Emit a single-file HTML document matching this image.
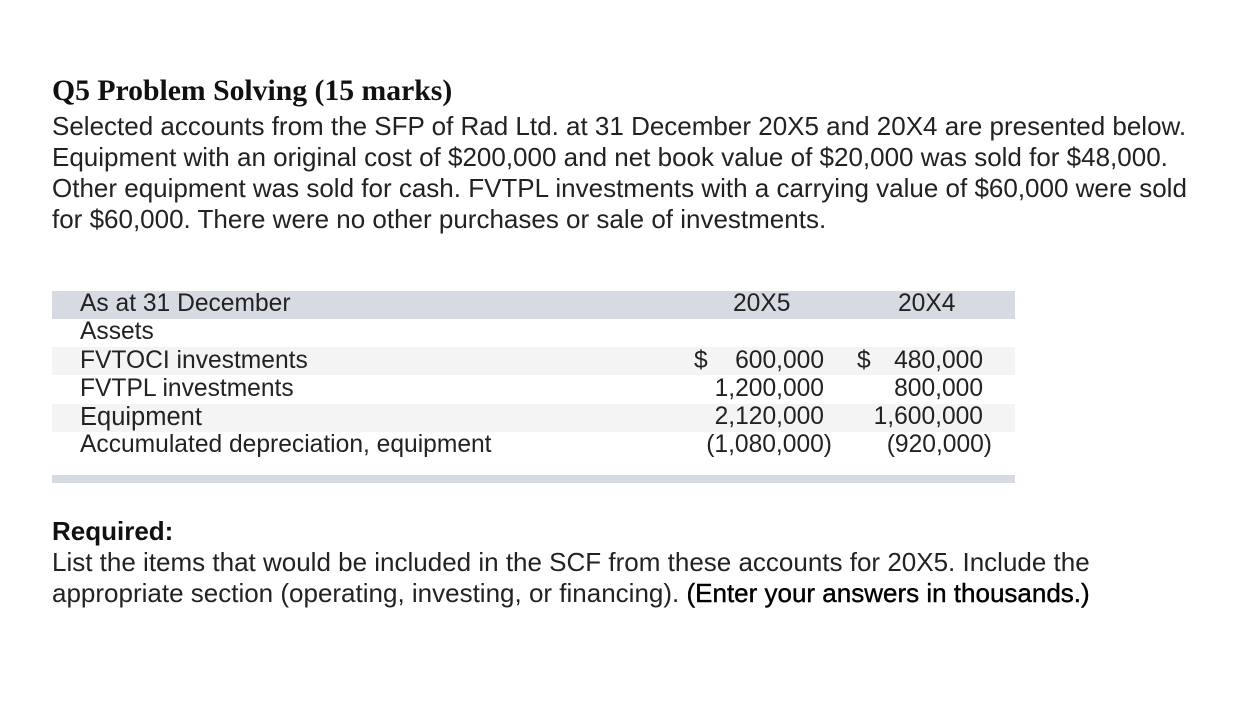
<!DOCTYPE html>
<html><head><meta charset="utf-8"><style>
body{margin:0;width:1244px;height:728px;background:#fff;position:relative;overflow:hidden;font-family:"Liberation Sans",Arial,sans-serif;color:#222}
.a{position:absolute;white-space:nowrap;line-height:1.15}
.p{font-size:26px;left:52px}
.t{font-size:24.6px}
.r{text-align:right}
</style></head><body>
<div class="a" style="left:52px;top:74px;font-family:'Liberation Serif',serif;font-weight:bold;font-size:29.7px;color:#111">Q5 Problem Solving (15 marks)</div>
<div class="a p" style="top:112px">Selected accounts from the SFP of Rad Ltd. at 31 December 20X5 and 20X4 are presented below.</div>
<div class="a p" style="top:143px">Equipment with an original cost of $200,000 and net book value of $20,000 was sold for $48,000.</div>
<div class="a p" style="top:174px">Other equipment was sold for cash. FVTPL investments with a carrying value of $60,000 were sold</div>
<div class="a p" style="top:205px">for $60,000. There were no other purchases or sale of investments.</div>

<div class="a" style="left:52px;top:291px;width:963px;height:28px;background:#d6dae3"></div>
<div class="a" style="left:52px;top:347px;width:963px;height:28px;background:#f4f4f4"></div>
<div class="a" style="left:52px;top:404px;width:963px;height:28px;background:#f4f4f4"></div>
<div class="a" style="left:52px;top:475px;width:963px;height:8px;background:#d6dae3"></div>

<div class="a t" style="left:80px;top:290px">As at 31 December</div>
<div class="a t" style="left:733px;top:290px">20X5</div>
<div class="a t" style="left:898px;top:290px">20X4</div>
<div class="a t" style="left:80px;top:318px">Assets</div>

<div class="a t" style="left:80px;top:347px">FVTOCI investments</div>
<div class="a t" style="left:694px;top:347px">$</div>
<div class="a t r" style="right:420px;top:347px">600,000</div>
<div class="a t" style="left:857px;top:347px">$</div>
<div class="a t r" style="right:261px;top:347px">480,000</div>

<div class="a t" style="left:80px;top:375px">FVTPL investments</div>
<div class="a t r" style="right:420px;top:375px">1,200,000</div>
<div class="a t r" style="right:261px;top:375px">800,000</div>

<div class="a t" style="left:80px;top:403px;font-size:25.5px">Equipment</div>
<div class="a t r" style="right:420px;top:403px">2,120,000</div>
<div class="a t r" style="right:261px;top:403px">1,600,000</div>

<div class="a t" style="left:80px;top:431px">Accumulated depreciation, equipment</div>
<div class="a t r" style="right:412px;top:431px">(1,080,000)</div>
<div class="a t r" style="right:252px;top:431px">(920,000)</div>

<div class="a p" style="top:517px;font-weight:bold;color:#111">Required:</div>
<div class="a p" style="top:548px">List the items that would be included in the SCF from these accounts for 20X5. Include the</div>
<div class="a p" style="top:579px">appropriate section (operating, investing, or financing). <span style="color:#000;-webkit-text-stroke:0.4px #000">(Enter your answers in thousands.)</span></div>
</body></html>
